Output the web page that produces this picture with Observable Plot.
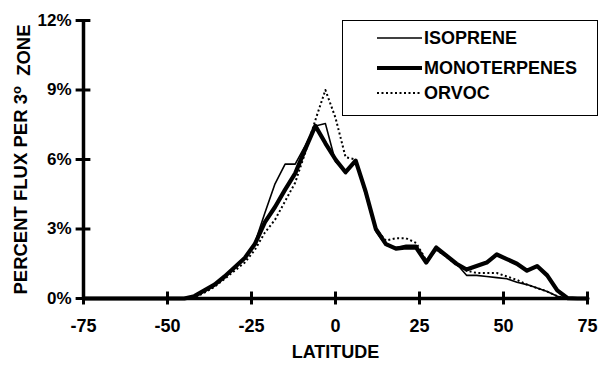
<!DOCTYPE html>
<html>
<head>
<meta charset="utf-8">
<script src="https://cdn.jsdelivr.net/npm/d3@7"></script>
<script src="https://cdn.jsdelivr.net/npm/@observablehq/plot@0.6"></script>
<style>
  html, body { margin: 0; padding: 0; background: #fff; }
  #wrap { position: relative; width: 603px; height: 368px; font-family: "Liberation Sans", Arial, sans-serif; font-weight: bold; }
  #legend { position: absolute; left: 342px; top: 20px; width: 256px; height: 96px; border: 1.5px solid #000; background: #fff; box-sizing: border-box; }
  .row { position: absolute; left: 34px; height: 20px; display: flex; align-items: center; font-size: 18px; color: #000; }
  .row svg { margin-right: 2px; }
</style>
</head>
<body>
<div id="wrap"></div>
<script>
const lat = [-75,-72,-69,-66,-63,-60,-57,-54,-51,-48,-45,-42,-39,-36,-33,-30,-27,-24,-21,-18,-15,-12,-9,-6,-3,0,3,6,9,12,15,18,21,24,27,30,33,36,39,42,45,48,51,54,57,60,63,66,69,72,75];
const isoprene = [0,0,0,0,0,0,0,0,0,0,
  0,0.1,0.3,0.55,0.95,1.3,1.75,2.4,3.7,4.95,5.8,5.8,6.6,7.45,7.55,5.9,5.45,5.9,4.5,2.9,2.3,2.2,2.3,2.3,1.6,2.1,1.8,1.5,1.0,1.0,0.95,0.9,0.85,0.7,0.6,0.45,0.3,0.1,0,0,0];
const monoterpenes = [0,0,0,0,0,0,0,0,0,0,
  0,0.1,0.35,0.6,0.95,1.35,1.75,2.35,3.3,3.95,4.7,5.4,6.45,7.45,6.7,6.0,5.45,5.95,4.6,3.0,2.35,2.15,2.2,2.2,1.55,2.2,1.85,1.5,1.25,1.4,1.55,1.9,1.7,1.5,1.2,1.4,1.0,0.35,0.02,0,0];
const orvoc = [0,0,0,0,0,0,0,0,0,0,
  0,0.05,0.25,0.5,0.85,1.2,1.55,2.1,2.85,3.4,4.2,5.0,6.3,7.7,9.0,7.8,6.1,6.0,4.5,3.0,2.5,2.6,2.6,2.4,1.65,2.1,1.8,1.45,1.2,1.1,1.1,1.1,0.95,0.8,0.6,0.45,0.3,0.1,0,0,0];
const seriesNames = ["ISOPRENE", "MONOTERPENES", "ORVOC"];
const xTicks = [-75,-50,-25,0,25,50,75];
const yTicks = [0,3,6,9,12];
const xLabel = "LATITUDE";
const yLabel = ["PERCENT FLUX PER 3", "o", "  ZONE"];

const rows = (vals) => lat.map((l, i) => ({lat: l, v: vals[i]}));

const plot = Plot.plot({
  width: 603,
  height: 368,
  marginLeft: 83,
  marginRight: 16,
  marginTop: 20,
  marginBottom: 70,
  style: {fontFamily: "'Liberation Sans', Arial, sans-serif", fontWeight: "bold", background: "#fff", overflow: "visible"},
  x: {domain: [-75, 75]},
  y: {domain: [0, 12]},
  marks: [
    Plot.axisX(xTicks, {tickSize: 0, tickPadding: 21, fontSize: 18, label: null, tickFormat: d => String(d)}),
    Plot.axisY(yTicks, {tickSize: 0, tickPadding: 12, fontSize: 17, label: null, tickFormat: d => d + "%"}),
    Plot.line(rows(orvoc), {x: "lat", y: "v", stroke: "#000", strokeWidth: 2, strokeDasharray: "2,2.5", strokeLinecap: "butt"}),
    Plot.line(rows(isoprene), {x: "lat", y: "v", stroke: "#000", strokeWidth: 1.6}),
    Plot.line(rows(monoterpenes), {x: "lat", y: "v", stroke: "#000", strokeWidth: 4.2, strokeLinejoin: "round"}),
    Plot.ruleX([-75], {y1: 0, y2: 12, stroke: "#000", strokeWidth: 3.5}),
    Plot.ruleY([0], {x1: -75, x2: 75, stroke: "#000", strokeWidth: 3.5}),
    Plot.ruleY(yTicks, {x1: -77.2, x2: -72.8, stroke: "#000", strokeWidth: 3}),
    Plot.ruleX(xTicks, {y1: -0.28, y2: 0.28, stroke: "#000", strokeWidth: 3}),
    Plot.text([xLabel], {frameAnchor: "bottom", dy: 59, fontSize: 18, fill: "#000"}),
    Plot.text([yLabel.join("")], {frameAnchor: "left", textAnchor: "middle", dx: -62, rotate: -90, fontSize: 18.5, fill: "#000", className: "ylab"})
  ]
});

// superscript "o" in the y label
d3.select(plot).selectAll("g.ylab text").each(function() {
  const t = d3.select(this);
  t.text(null);
  t.append("tspan").text(yLabel[0]);
  t.append("tspan").text(yLabel[1]).attr("font-size", 13).attr("dy", "-0.5em");
  t.append("tspan").text(yLabel[2]).attr("dy", "0.5em").attr("xml:space", "preserve").style("white-space", "pre");
});

const wrap = document.getElementById("wrap");
wrap.appendChild(plot);

// legend
const legend = document.createElement("div");
legend.id = "legend";
const styles = [
  {w: 1.6, dash: null},
  {w: 4.2, dash: null},
  {w: 2, dash: "2,2.5"}
];
const tops = [7, 37, 62];
seriesNames.forEach((name, i) => {
  const r = document.createElement("div");
  r.className = "row";
  r.style.top = tops[i] + "px";
  const s = d3.create("svg").attr("width", 45).attr("height", 10);
  s.append("line").attr("x1", 0).attr("x2", 45).attr("y1", 5).attr("y2", 5)
    .attr("stroke", "#000").attr("stroke-width", styles[i].w)
    .attr("stroke-dasharray", styles[i].dash);
  r.appendChild(s.node());
  const span = document.createElement("span");
  span.textContent = name;
  r.appendChild(span);
  legend.appendChild(r);
});
wrap.appendChild(legend);
</script>
</body>
</html>
